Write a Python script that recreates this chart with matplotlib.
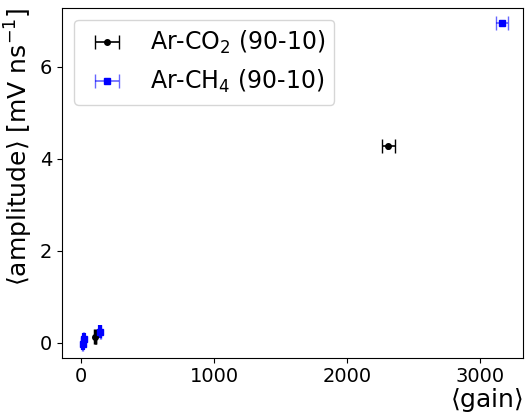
import numpy as np
import matplotlib
matplotlib.use("Agg")
import matplotlib.pyplot as plt

# mean gain vs mean signal amplitude for both gas mixtures
co2_gain = [105, 2310]
co2_gain_err = [4, 48]
co2_amp = [0.13, 4.27]
co2_amp_err = [0.16, 0.05]

ch4_gain = [12, 18, 143, 3165]
ch4_gain_err = [3, 3, 4, 45]
ch4_amp = [-0.03, 0.08, 0.24, 6.95]
ch4_amp_err = [0.14, 0.12, 0.15, 0.05]

plt.rcParams["mathtext.fontset"] = "dejavusans"

fig, ax = plt.subplots(figsize=(5.27, 4.16), dpi=100)

# amplitude spread drawn as plain vertical bars, gain spread with caps
ax.errorbar(co2_gain, co2_amp, yerr=co2_amp_err, fmt="none",
            ecolor="black", elinewidth=2.5, capsize=0)
ax.errorbar(co2_gain, co2_amp, xerr=co2_gain_err,
            fmt="o", color="black", ms=4, elinewidth=1.2, capsize=5,
            label=r"Ar-CO$_2$ (90-10)")

ax.errorbar(ch4_gain, ch4_amp, yerr=ch4_amp_err, fmt="none",
            ecolor="blue", elinewidth=3, capsize=0)
eb = ax.errorbar(ch4_gain, ch4_amp, xerr=ch4_gain_err,
                 fmt="s", color="blue", ms=4, elinewidth=1.2, capsize=5,
                 label=r"Ar-CH$_4$ (90-10)")
for lc in eb[2]:
    lc.set_alpha(0.6)
for cap in eb[1]:
    cap.set_alpha(0.6)

ax.set_xlim(-143, 3323)
ax.set_ylim(-0.33, 7.28)
ax.set_xticks([0, 1000, 2000, 3000])
ax.set_yticks([0, 2, 4, 6])
ax.tick_params(labelsize=14)

ax.set_xlabel(r"$\langle$gain$\rangle$", fontsize=18, loc="right", labelpad=0)
ax.set_ylabel(r"$\langle$amplitude$\rangle$ [mV ns$^{-1}$]", fontsize=18, loc="top")

ax.legend(loc="upper left", fontsize=17, frameon=True)

fig.subplots_adjust(left=0.118, right=0.992, top=0.981, bottom=0.14)
fig.savefig("out.png", dpi=100)
